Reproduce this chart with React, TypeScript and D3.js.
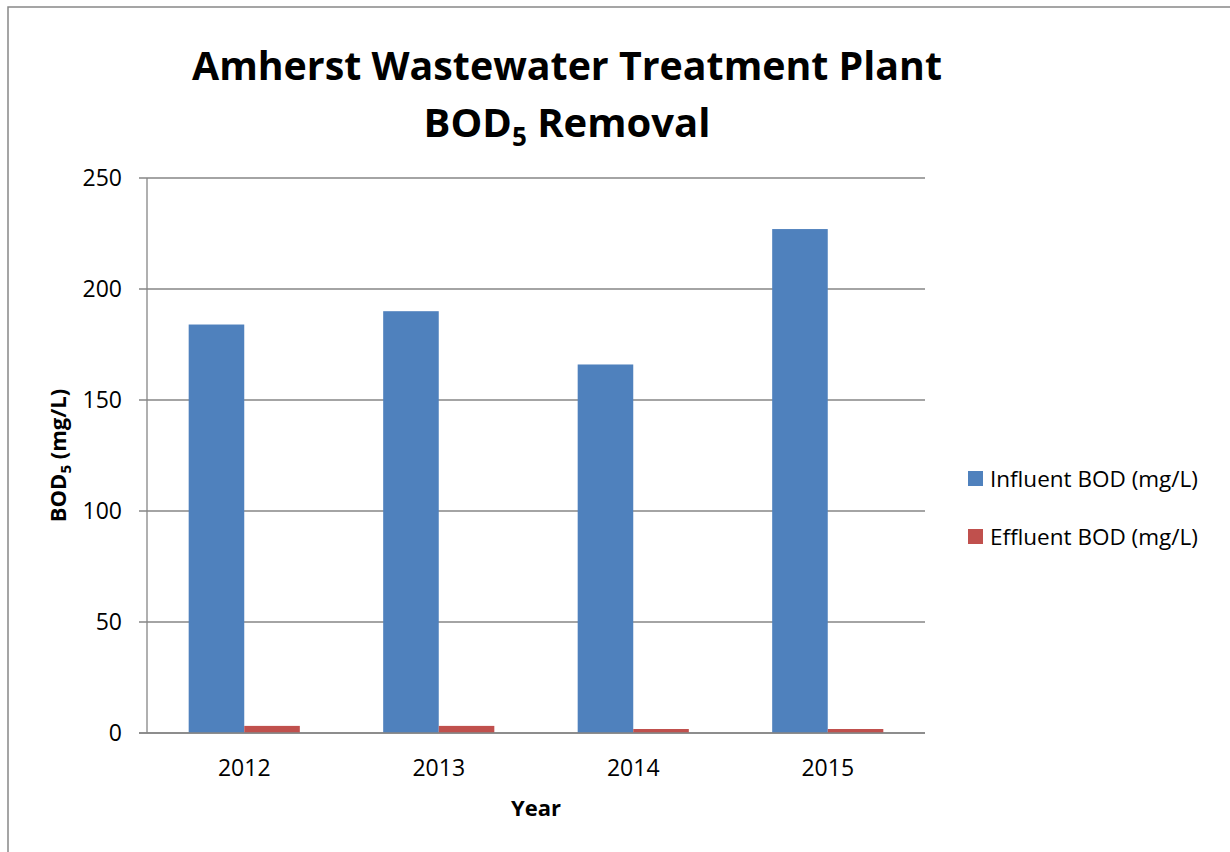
import React from "react";
import * as d3 from "d3";

const years = ["2012", "2013", "2014", "2015"];
const influent = [184, 190, 166, 227];
const effluent = [3.2, 3.2, 1.8, 1.8];
const yTicks = [0, 50, 100, 150, 200, 250];
const seriesNames = ["Influent BOD (mg/L)", "Effluent BOD (mg/L)"];
const seriesColors = ["#4F81BD", "#C0504D"];

const FONT = "'Open Sans', 'Noto Sans', sans-serif";

export default function App() {
  const W = 1230, H = 852;
  const left = 147, right = 925, top = 178, bottom = 733;
  const x = d3.scaleBand<string>().domain(years).range([left, right]).paddingInner(0).paddingOuter(0);
  const y = d3.scaleLinear().domain([0, 250]).range([bottom, top]);
  const bw = x.bandwidth() / 3.5;
  const series = [influent, effluent];

  return (
    <svg width={W} height={H} style={{ position: "absolute", left: 0, top: 0, background: "#fff" }} fontFamily={FONT}>
      <rect x={0} y={0} width={W} height={H} fill="#fff" />
      <rect x={8} y={7} width={W + 20} height={H + 20} fill="none" stroke="#888" strokeWidth={1.5} />
      {/* title */}
      <text x={567} y={80} textAnchor="middle" fontSize={40} fontWeight="bold" fill="#000" textLength={750} lengthAdjust="spacingAndGlyphs">
        Amherst Wastewater Treatment Plant
      </text>
      <text x={567} y={137} textAnchor="middle" fontSize={40} fontWeight="bold" fill="#000">
        BOD<tspan fontSize={26} dy={9}>5</tspan><tspan dy={-9}> Removal</tspan>
      </text>
      {/* gridlines */}
      {yTicks.map((t) => (
        <g key={t}>
          <line x1={139} x2={right} y1={y(t)} y2={y(t)} stroke="#868686" strokeWidth={1.3} />
          <text x={122} y={y(t) + 8} textAnchor="end" fontSize={23} fill="#000">{t}</text>
        </g>
      ))}
      {/* bars */}
      {years.map((yr, i) => (
        <g key={yr}>
          {series.map((s, j) => (
            <rect key={j} x={(x(yr) as number) + bw * (0.75 + j)} width={bw} y={y(s[i])} height={bottom - y(s[i])} fill={seriesColors[j]} />
          ))}
          <text x={(x(yr) as number) + x.bandwidth() / 2} y={776} textAnchor="middle" fontSize={23} fill="#000">{yr}</text>
        </g>
      ))}
      {/* axes */}
      <line x1={left} x2={left} y1={top} y2={bottom} stroke="#868686" strokeWidth={1.3} />
      <line x1={139} x2={right} y1={bottom} y2={bottom} stroke="#868686" strokeWidth={1.3} />
      {/* axis titles */}
      <text x={536} y={816} textAnchor="middle" fontSize={22} fontWeight="bold" fill="#000">Year</text>
      <text transform={`translate(66,${(top + bottom) / 2}) rotate(-90)`} textAnchor="middle" fontSize={22} fontWeight="bold" fill="#000">
        BOD<tspan fontSize={15} dy={5}>5</tspan><tspan dy={-5}> (mg/L)</tspan>
      </text>
      {/* legend */}
      {seriesNames.map((n, j) => (
        <g key={n}>
          <rect x={968} y={471 + j * 58} width={15} height={15} fill={seriesColors[j]} />
          <text x={990} y={487 + j * 58} fontSize={22.5} fill="#000">{n}</text>
        </g>
      ))}
    </svg>
  );
}
